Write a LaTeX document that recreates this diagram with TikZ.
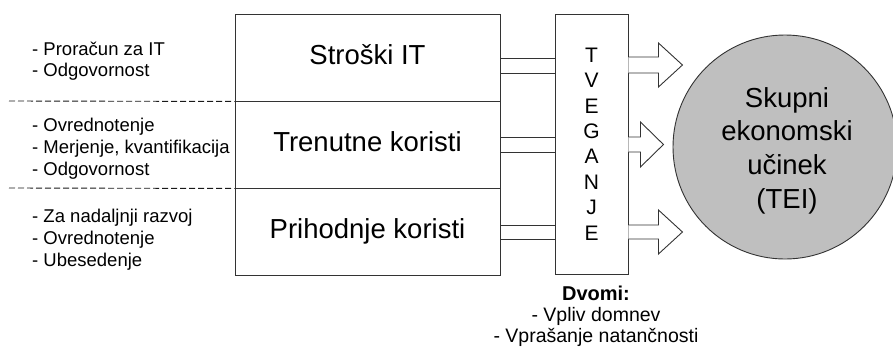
\documentclass[tikz,border=0pt]{standalone}
\usepackage{fontspec}
\setmainfont{Liberation Sans}
\begin{document}
\begin{tikzpicture}[x=1pt,y=-1pt,
  line/.style={draw=black!80,line width=0.9pt},
  rowbox/.style={line,rectangle,inner sep=0pt,minimum width=265pt,minimum height=87pt,
     font=\fontsize{27.5}{31}\selectfont,text height=20pt,text depth=6pt},
  note/.style={anchor=base west,inner sep=0pt,font=\fontsize{18.5}{21}\selectfont},
  doubt/.style={anchor=base,inner sep=0pt,font=\fontsize{19.5}{22}\selectfont},
  sep/.style={draw=black!90,line width=0.9pt,dash pattern=on 6pt off 3pt},
  pipe/.style={line},
  blockarrow/.style={line,fill=white,line join=miter}]
\useasboundingbox (0,0) rectangle (893,349);
% left boxes
\node[rowbox] (r1) at (367.5,57.5) {Stroški IT};
\node[rowbox] (r2) at (367.5,144.5) {Trenutne koristi};
\node[rowbox] (r3) at (367.5,231.5) {Prihodnje koristi};
% risk box
\node[line,rectangle,inner sep=0pt,minimum width=73pt,minimum height=260pt,align=center,
  font=\fontsize{21}{25.4}\selectfont] (risk) at (591.5,144) {T\\V\\E\\G\\A\\N\\J\\E};
% circle
\node[line,circle,fill=gray!50,minimum size=224pt,inner sep=0pt] (tei) at (785,147) {};
\node[align=center,inner sep=0pt,font=\fontsize{27.5}{33.7}\selectfont] (teitext) at (787,150.5)
  {Skupni\\ekonomski\\učinek\\(TEI)};
% dashed separators
\coordinate (d1) at (9,101);
\coordinate (d2) at (9,188);
\draw[sep] (d1) -- (r1.south west);
\draw[sep] (d2) -- (r2.south west);
% left notes
\node[note] (n11) at (32,55) {- Proračun za IT};
\node[note] (n12) at (32,76) {- Odgovornost};
\node[note] (n21) at (32,131) {- Ovrednotenje};
\node[note] (n22) at (32,153) {- Merjenje, kvantifikacija};
\node[note] (n23) at (32,175) {- Odgovornost};
\node[note] (n31) at (32,222) {- Za nadaljnji razvoj};
\node[note] (n32) at (32,244) {- Ovrednotenje};
\node[note] (n33) at (32,266) {- Ubesedenje};
% pipes
\draw[pipe] (r1.east |- 0,58) -- (risk.west |- 0,58);
\draw[pipe] (r1.east |- 0,73) -- (risk.west |- 0,73);
\draw[pipe] (r2.east |- 0,137) -- (risk.west |- 0,137);
\draw[pipe] (r2.east |- 0,152) -- (risk.west |- 0,152);
\draw[pipe] (r3.east |- 0,225) -- (risk.west |- 0,225);
\draw[pipe] (r3.east |- 0,239) -- (risk.west |- 0,239);
% block arrows
\draw[blockarrow] (risk.east |- 0,57) -- ++(30,0) -- ++(0,-14) -- ++(24,22) -- ++(-24,22) -- ++(0,-14) -- ++(-30,0);
\draw[blockarrow] (risk.east |- 0,137) -- ++(12,0) -- ++(0,-15) -- ++(23,22.5) -- ++(-23,22.5) -- ++(0,-15) -- ++(-12,0);
\draw[blockarrow] (risk.east |- 0,225) -- ++(30,0) -- ++(0,-15) -- ++(24,22) -- ++(-24,22) -- ++(0,-15) -- ++(-30,0);
% doubts
\node[doubt,font=\fontsize{20}{22}\selectfont\bfseries] (dv) at (596,300) {Dvomi:};
\node[doubt] (dv1) at (596,321) {- Vpliv domnev};
\node[doubt] (dv2) at (596,342) {- Vprašanje natančnosti};
\end{tikzpicture}
\end{document}
